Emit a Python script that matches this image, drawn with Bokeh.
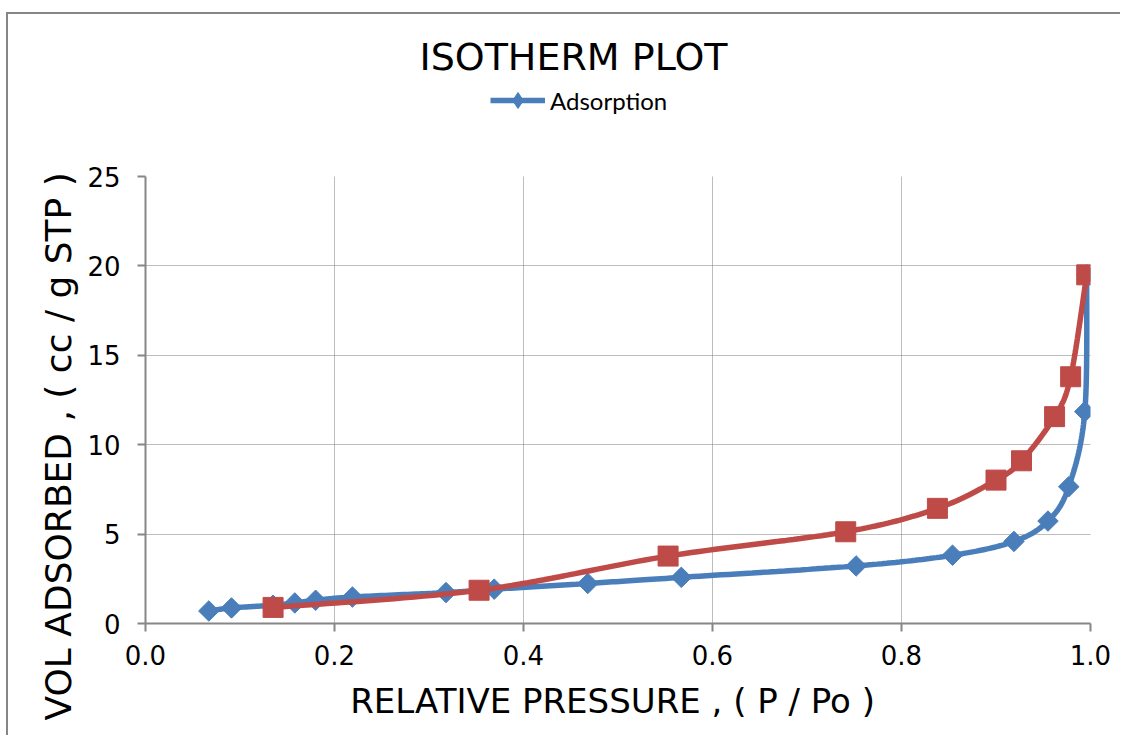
import numpy as np
from bokeh.plotting import figure
from bokeh.layouts import column
from bokeh.models import Range1d, Legend, LegendItem, NumeralTickFormatter, Title, Label
from bokeh.embed import file_html
from bokeh.resources import INLINE

# ---------------- data ----------------
ads_x = [0.067, 0.091, 0.135, 0.158, 0.180, 0.219, 0.318, 0.369, 0.468, 0.567,
         0.752, 0.854, 0.919, 0.955, 0.977, 0.994, 0.996]
ads_y = [0.70, 0.87, 1.02, 1.15, 1.30, 1.48, 1.73, 1.92, 2.24, 2.58,
         3.22, 3.82, 4.59, 5.73, 7.65, 11.85, 19.5]
des_x = [0.135, 0.353, 0.553, 0.741, 0.838, 0.900, 0.927, 0.962, 0.979, 0.996]
des_y = [0.90, 1.86, 3.77, 5.13, 6.44, 8.02, 9.10, 11.57, 13.80, 19.5]
x_ticks = [0.0, 0.2, 0.4, 0.6, 0.8, 1.0]
y_ticks = [0, 5, 10, 15, 20, 25]

title_text = "ISOTHERM PLOT"
legend_text = "Adsorption"
x_label = "RELATIVE PRESSURE ,  ( P / Po )"
y_label = "VOL  ADSORBED ,  ( cc / g  STP )"

BLUE = "#4A7EBB"
RED = "#BE4B48"
GRAY = "#868686"


def smooth(xs, ys, n=24):
    """Excel-like smoothed line (Catmull-Rom as cubic Bezier)."""
    P = np.column_stack([xs, ys]).astype(float)
    m = len(P)
    out = [P[0]]
    t = np.linspace(0, 1, n + 1)[1:, None]
    for i in range(m - 1):
        p0 = P[i - 1] if i > 0 else P[i]
        p1, p2 = P[i], P[i + 1]
        p3 = P[i + 2] if i + 2 < m else P[i + 1]
        c1 = p1 + (p2 - p0) / 6.0
        c2 = p2 - (p3 - p1) / 6.0
        seg = (1 - t) ** 3 * p1 + 3 * (1 - t) ** 2 * t * c1 + 3 * (1 - t) * t ** 2 * c2 + t ** 3 * p2
        out.extend(seg)
    out = np.array(out)
    return out[:, 0], out[:, 1]


W = 1112
HT = 132          # header (title + legend) height
HM = 589          # main chart height

# ---------------- header figure: title + legend ----------------
# its frame is aligned with the main frame (page x 145..1090)
top = figure(width=W, height=HT, output_backend="svg", toolbar_location=None,
             x_range=Range1d(145, 1090), y_range=Range1d(0, HT),
             x_axis_type=None, y_axis_type=None, min_border=0)
top.outline_line_color = None
top.background_fill_color = "white"
top.border_fill_color = "white"
top.xgrid.visible = False
top.ygrid.visible = False

top.add_layout(Label(x=573, y=HT - 42, y_units="screen", text=title_text,
                     text_align="center", text_baseline="alphabetic",
                     text_font="DejaVu Sans", text_font_size="38px",
                     text_color="black"))

# invisible proxies carrying the Adsorption styling for the legend
lg_line = top.line(ads_x, ads_y, line_color=BLUE, line_width=5.5, visible=False)
lg_mark = top.scatter(ads_x, ads_y, marker="diamond", size=14,
                      fill_color=BLUE, line_color=BLUE, visible=False)
legend = Legend(items=[LegendItem(label=legend_text, renderers=[lg_line, lg_mark])],
                location=(345, HT - 120 + 14), glyph_width=55, glyph_height=40,
                label_standoff=5, padding=0, margin=0, spacing=0,
                border_line_color=None, background_fill_alpha=0,
                label_text_font="Lato", label_text_font_size="24px",
                label_text_color="black")
top.add_layout(legend, "center")

# ---------------- main chart ----------------
p = figure(width=W, height=HM, output_backend="svg", toolbar_location=None,
           x_range=Range1d(0, 1), y_range=Range1d(0, 25),
           min_border_left=137, min_border_right=30,
           min_border_top=30, min_border_bottom=112)
p.outline_line_color = None
p.background_fill_color = "white"
p.border_fill_color = "white"

for ax in (p.xaxis, p.yaxis):
    ax.axis_line_color = GRAY
    ax.axis_line_width = 2
    ax.major_tick_line_color = GRAY
    ax.major_tick_line_width = 2
    ax.major_tick_out = 8
    ax.major_tick_in = 0
    ax.minor_tick_line_color = None
    ax.major_label_text_font = "DejaVu Sans"
    ax.major_label_text_font_size = "26px"
    ax.major_label_text_color = "black"

p.xaxis.ticker = x_ticks
p.yaxis.ticker = y_ticks
p.xaxis.formatter = NumeralTickFormatter(format="0.0")
p.xaxis.major_label_standoff = 13
p.yaxis.major_label_standoff = 17

p.xaxis.axis_label = x_label
p.xaxis.axis_label_text_font = "DejaVu Sans"
p.xaxis.axis_label_text_font_size = "34px"
p.xaxis.axis_label_text_font_style = "normal"
p.xaxis.axis_label_text_color = "black"
p.xaxis.axis_label_standoff = 13

for g in (p.xgrid, p.ygrid):
    g.grid_line_color = "#7a7a7a"
    g.grid_line_dash = "1 1"
    g.grid_line_width = 1
p.xgrid.ticker = x_ticks
p.ygrid.ticker = y_ticks

bx, by = smooth(ads_x, ads_y)
rx, ry = smooth(des_x, des_y)
p.line(bx, by, line_color=BLUE, line_width=5.5)
p.scatter(ads_x, ads_y, marker="square", size=14.5, angle=np.pi / 4,
          fill_color=BLUE, line_color=BLUE)
p.line(rx, ry, line_color=RED, line_width=5.5)
p.scatter(des_x, des_y, marker="square", size=20, fill_color=RED, line_color=RED)

p.add_layout(Title(text=y_label, align="left", offset=-97, vertical_align="bottom",
                   standoff=12, text_font="DejaVu Sans", text_font_size="36px",
                   text_font_style="normal", text_color="black"), "left")

layout = column(top, p, spacing=0,
                styles={"margin": "12px 0px 0px 6px",
                        "border-top": f"2px solid {GRAY}",
                        "border-left": f"2px solid {GRAY}"})

open("out.html", "w").write(file_html(layout, INLINE))
